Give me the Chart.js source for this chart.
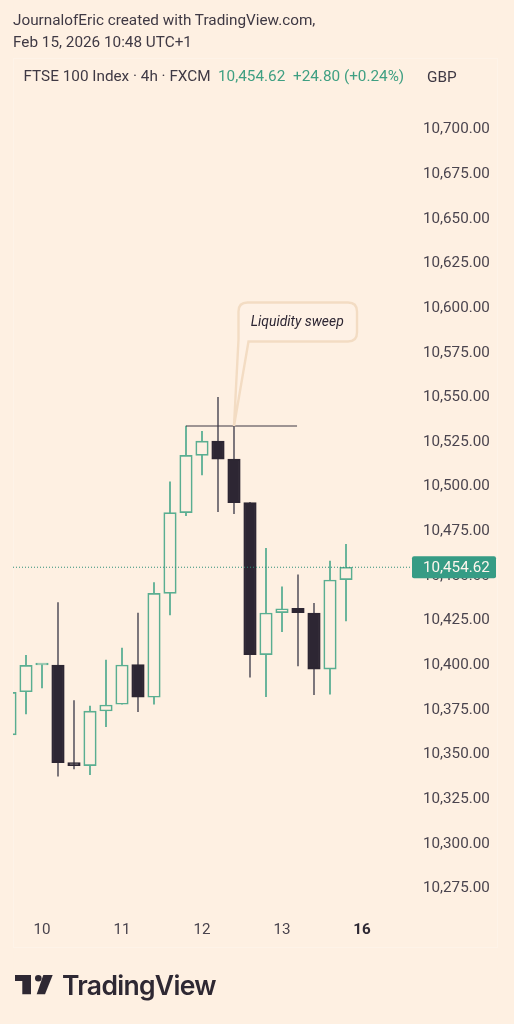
<!DOCTYPE html>
<html lang="en">
<head>
    <meta charset="UTF-8">
    <title>FTSE 100 Index 4h</title>
    <script src="https://cdn.jsdelivr.net/npm/chart.js"></script>
    <style>
        html, body { margin: 0; padding: 0; background: #fef0e2; }
        #page { position: relative; width: 514px; height: 1024px; overflow: hidden; font-family: Roboto, sans-serif; color: #3f3944; }
        #chart { position: absolute; left: 0; top: 0; display: block; }
        .txt { position: absolute; white-space: nowrap; font-size: 15.3px; line-height: 20px; }
        .green { color: #3f9f82; }
        #pane { position: absolute; left: 13px; top: 58px; width: 485px; height: 890px; border: 1px solid #fef3e8; box-sizing: border-box; }
        #brand { position: absolute; left: 62px; top: 969px; font: 600 26.5px/32px Inter, sans-serif; letter-spacing: -0.7px; color: #2e2833; }
        #logo { position: absolute; left: 0; top: 960px; }
    </style>
</head>
<body>
<div id="page">
    <div id="pane"></div>
    <canvas id="chart" width="514" height="1024"></canvas>
    <div class="txt" style="left:13px;top:10px">JournalofEric created with TradingView.com,</div>
    <div class="txt" style="left:13px;top:31.5px">Feb 15, 2026 10:48 UTC+1</div>
    <div class="txt" style="left:23.5px;top:66px">FTSE 100 Index · 4h · FXCM</div>
    <div class="txt green" style="left:218px;top:66px">10,454.62</div>
    <div class="txt green" style="left:293px;top:66px">+24.80 (+0.24%)</div>
    <div class="txt" style="left:427px;top:67px">GBP</div>
    <svg id="logo" width="60" height="50">
        <path fill="#2e2833" d="M15 15H31V34.3H22.3V21H15Z"/>
        <circle fill="#2e2833" cx="38.3" cy="18.3" r="3.3"/>
        <path fill="#2e2833" d="M43.3 15H52.7L45 34.3H36.7Z"/>
    </svg>
    <div id="brand">TradingView</div>
</div>

<script>
    // 4h candles
    const opens  = [10360.7, 10384.9, 10399.9, 10399.9, 10345.2, 10343.5, 10374.1, 10377.9, 10400.1, 10381.8, 10440.0, 10485.2, 10517.3, 10525.3, 10515.2, 10490.8, 10405.7, 10429.2, 10431.6, 10429.0, 10397.6, 10447.7];
    const closes = [10384.6, 10399.7, 10400.2, 10345.2, 10343.5, 10374.1, 10377.5, 10399.9, 10381.8, 10440.0, 10485.2, 10517.3, 10525.3, 10515.2, 10490.8, 10405.7, 10429.0, 10431.4, 10429.2, 10397.6, 10447.5, 10454.62];
    const highs  = [10384.6, 10405.3, 10400.3, 10434.8, 10379.9, 10376.9, 10402.7, 10409.4, 10429.0, 10446.0, 10502.5, 10533.7, 10530.7, 10549.8, 10533.7, 10491.0, 10465.2, 10443.7, 10450.4, 10434.4, 10458.0, 10467.5];
    const lows   = [10360.7, 10372.5, 10387.0, 10337.7, 10341.7, 10338.5, 10365.3, 10377.9, 10373.7, 10378.0, 10427.9, 10483.5, 10506.3, 10485.7, 10484.6, 10393.0, 10382.1, 10418.5, 10399.3, 10383.3, 10383.5, 10424.5];

    const priceTicks = [10275, 10300, 10325, 10350, 10375, 10400, 10425, 10450, 10475, 10500, 10525, 10550, 10575, 10600, 10625, 10650, 10675, 10700];
    const timeLabels = ['10', '11', '12', '13', '16'];
    const timeIndexes = [2, 7, 12, 17, 22];
    const boldTime = '16';

    const lastPrice = 10454.62;
    const sweepLevel = 10533.7;
    const sweepFrom = 11;
    const sweepTo = 17.94;
    const calloutCandle = 14;
    const calloutText = 'Liquidity sweep';

    const UP = '#5aae91', DOWN = '#2d2633', BG = '#fef0e2';
    const UP_WICK = '#68b49a', DOWN_WICK = '#7a7479';

    const isUp = i => closes[i] >= opens[i];

    // callout, last price tag
    const overlay = {
        id: 'overlay',
        afterDraw(chart) {
            const { ctx, scales: { x, y } } = chart;
            const ax = x.getPixelForValue(calloutCandle), ay = y.getPixelForValue(sweepLevel);

            // box is placed relative to the candle it points at
            const l = ax + 4.5, r = ax + 123, t = ay - 123.5, b = ay - 84.5, rad = 9;
            ctx.save();
            ctx.beginPath();
            ctx.moveTo(l + rad, t);
            ctx.lineTo(r - rad, t);
            ctx.quadraticCurveTo(r, t, r, t + rad);
            ctx.lineTo(r, b - rad);
            ctx.quadraticCurveTo(r, b, r - rad, b);
            ctx.lineTo(l + 10, b);
            ctx.lineTo(ax, ay);
            ctx.lineTo(l, b - 2);
            ctx.lineTo(l, t + rad);
            ctx.quadraticCurveTo(l, t, l + rad, t);
            ctx.closePath();
            ctx.fillStyle = '#fef1e5';
            ctx.fill();
            ctx.lineWidth = 2.4;
            ctx.strokeStyle = '#f3dcc3';
            ctx.stroke();
            ctx.fillStyle = DOWN;
            ctx.font = 'italic 13.9px Roboto, sans-serif';
            ctx.textAlign = 'center';
            ctx.textBaseline = 'middle';
            ctx.fillText(calloutText, (l + r) / 2 - 0.5, (t + b) / 2 + 0.5);

            const py = y.getPixelForValue(lastPrice);
            ctx.beginPath();
            ctx.roundRect(x.right, py - 11, 84, 22, 2);
            ctx.fillStyle = '#369c85';
            ctx.fill();
            ctx.fillStyle = '#fef6ee';
            ctx.font = '15.2px Roboto, sans-serif';
            ctx.textAlign = 'left';
            ctx.fillText(lastPrice.toLocaleString('en-US', { minimumFractionDigits: 2 }), x.right + 11, py + 0.5);
            ctx.restore();
        }
    };

    new Chart(document.getElementById('chart'), {
        type: 'bar',
        data: {
            datasets: [
                {
                    // bodies
                    data: opens.map((o, i) => ({ x: i, y: [o, closes[i]] })),
                    backgroundColor: opens.map((o, i) => isUp(i) ? BG : DOWN),
                    borderColor: opens.map((o, i) => isUp(i) ? UP : DOWN),
                    borderWidth: 1.7,
                    borderSkipped: false,
                    barThickness: 12.5,
                    minBarLength: 2,
                    grouped: false,
                    order: 2
                },
                {
                    // wicks
                    data: highs.map((h, i) => ({ x: i, y: [lows[i], h] })),
                    backgroundColor: highs.map((h, i) => isUp(i) ? UP_WICK : DOWN_WICK),
                    barThickness: 1.3,
                    grouped: false,
                    order: 3
                },
                {
                    type: 'line',
                    data: [{ x: sweepFrom, y: sweepLevel }, { x: sweepTo, y: sweepLevel }],
                    borderColor: '#3f3944',
                    borderWidth: 1,
                    pointRadius: 0,
                    order: 1
                },
                {
                    type: 'line',
                    data: [{ x: 0, y: lastPrice }, { x: 26, y: lastPrice }],
                    borderColor: '#2f8f78',
                    borderWidth: 1,
                    borderDash: [1, 2],
                    pointRadius: 0,
                    order: 0
                }
            ]
        },
        options: {
            responsive: false,
            animation: false,
            layout: { padding: { left: 13, top: 94, right: 0, bottom: 69 } },
            plugins: { legend: { display: false }, tooltip: { enabled: false } },
            scales: {
                x: {
                    type: 'linear',
                    offset: false,
                    min: 0.1875,
                    max: 25.125,
                    grid: { display: false, drawTicks: false, offset: false },
                    border: { display: false },
                    afterBuildTicks: s => { s.ticks = timeIndexes.map(v => ({ value: v })); },
                    afterFit: s => { s.height = 40; },
                    ticks: {
                        autoSkip: false,
                        maxRotation: 0,
                        padding: 6,
                        color: ctx => timeLabels[ctx.index] === boldTime ? '#2e2833' : '#4a444e',
                        font: ctx => ({ family: 'Roboto', size: 15.2, weight: timeLabels[ctx.index] === boldTime ? '700' : '400' }),
                        callback: (v, i) => timeLabels[i]
                    }
                },
                y: {
                    position: 'right',
                    min: 10259.9,
                    max: 10719.6,
                    grid: { display: false, drawTicks: false },
                    border: { display: false },
                    afterBuildTicks: s => { s.ticks = priceTicks.map(v => ({ value: v })); },
                    afterFit: s => { s.width = 102; },
                    ticks: {
                        padding: 11,
                        labelOffset: 0.5,
                        color: '#4a444e',
                        font: { family: 'Roboto', size: 15.2 },
                        callback: v => v.toLocaleString('en-US', { minimumFractionDigits: 2 })
                    }
                }
            }
        },
        plugins: [overlay]
    });
</script>
</body>
</html>
